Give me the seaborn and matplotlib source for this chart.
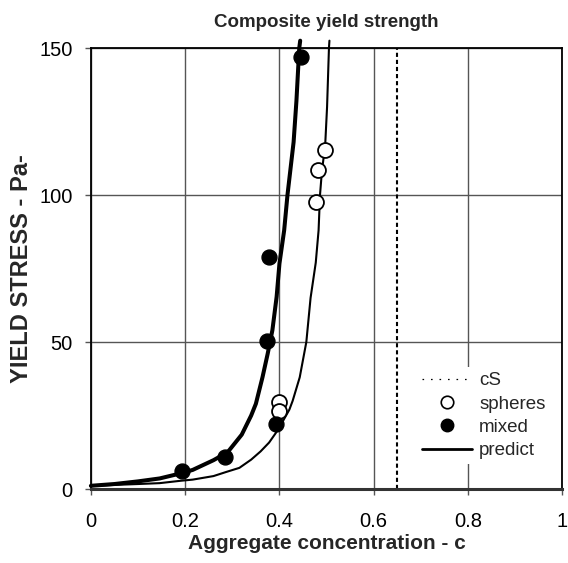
import matplotlib
matplotlib.use("Agg")
import matplotlib.pyplot as plt
import seaborn as sns
import pandas as pd
from matplotlib.lines import Line2D

# --- data ---
spheres_c = [0.398, 0.398, 0.478, 0.481, 0.4975]
spheres_y = [29.5, 26.6, 97.5, 108.5, 115.3]

mixed_c = [0.193, 0.285, 0.374, 0.392, 0.378, 0.446]
mixed_y = [6.0, 10.9, 50.5, 22.1, 79.0, 147.0]

pred_mixed_c = [0.0, 0.05, 0.10, 0.146, 0.19, 0.216, 0.26, 0.29, 0.32, 0.34, 0.35, 0.364,
                0.375, 0.385, 0.394, 0.40, 0.41, 0.417, 0.43, 0.436, 0.442, 0.444]
pred_mixed_y = [1.1, 1.7, 2.6, 3.6, 5.3, 6.5, 9.8, 12.5, 18.5, 25.0, 29.0, 38.0,
                46.0, 54.0, 65.4, 76.7, 88.0, 100.0, 118.0, 132.0, 150.0, 152.5]

pred_sph_c = [0.0, 0.05, 0.10, 0.146, 0.19, 0.216, 0.26, 0.287, 0.315, 0.34, 0.36, 0.378,
              0.392, 0.407, 0.421, 0.428, 0.443, 0.457, 0.466, 0.477, 0.483, 0.486, 0.49,
              0.497, 0.501, 0.505, 0.506]
pred_sph_y = [1.0, 1.4, 1.7, 2.0, 2.8, 3.2, 4.4, 5.8, 7.2, 10.0, 12.8, 15.8,
              19.0, 23.0, 27.0, 30.0, 38.0, 50.0, 65.0, 77.0, 88.0, 100.0, 108.0,
              117.0, 130.0, 150.0, 152.5]

cS = 0.65

x_ticks = [0, 0.2, 0.4, 0.6, 0.8, 1]
x_tick_labels = ["0", "0.2", "0.4", "0.6", "0.8", "1"]
y_ticks = [0, 50, 100, 150]

title = "Composite yield strength"
xlabel = "Aggregate concentration - c"
ylabel = "YIELD STRESS - Pa-"
legend_labels = ["cS", "spheres", "mixed", "predict"]

# --- style ---
sns.set_style("white")
plt.rcParams["font.family"] = ["Liberation Sans", "DejaVu Sans"]

fig = plt.figure(figsize=(5.68, 5.63), dpi=100)
ax = fig.add_axes([0.160, 0.1314, 0.830, 0.7833])

df_pm = pd.DataFrame({"c": pred_mixed_c, "y": pred_mixed_y})
df_ps = pd.DataFrame({"c": pred_sph_c, "y": pred_sph_y})
df_s = pd.DataFrame({"c": spheres_c, "y": spheres_y})
df_m = pd.DataFrame({"c": mixed_c, "y": mixed_y})

ax.axvline(cS, color="black", ls=(0, (2.0, 1.4)), lw=1.5, zorder=2)

sns.lineplot(data=df_pm, x="c", y="y", ax=ax, color="black", lw=2.9, sort=False,
             zorder=3, clip_on=False)
sns.lineplot(data=df_ps, x="c", y="y", ax=ax, color="black", lw=1.5, sort=False,
             zorder=3, clip_on=False)
sns.scatterplot(data=df_s, x="c", y="y", ax=ax, s=115, facecolor="white", edgecolor="black",
                linewidth=1.3, zorder=4)
sns.scatterplot(data=df_m, x="c", y="y", ax=ax, s=115, color="black", edgecolor="black",
                linewidth=1.0, zorder=4)

ax.set_xlim(0, 1)
ax.set_ylim(0, 150)
ax.set_xticks(x_ticks)
ax.set_xticklabels(x_tick_labels)
ax.set_yticks(y_ticks)
ax.grid(True, color="#555555", lw=1.0)
ax.set_axisbelow(True)
ax.tick_params(axis="both", direction="out", length=4.5, width=1, colors="#555555",
               labelcolor="black", labelsize=14.5, bottom=True, left=True)
ax.tick_params(axis="x", pad=12.0)
ax.tick_params(axis="y", pad=8.5)

for side in ["top", "right", "left"]:
    ax.spines[side].set_color("black")
    ax.spines[side].set_linewidth(1.3)
ax.spines["bottom"].set_color("#333333")
ax.spines["bottom"].set_linewidth(2.2)

ax.set_title(title, fontsize=13.5, fontweight="bold", pad=15)
ax.set_xlabel(xlabel, fontsize=15, fontweight="bold", labelpad=2)
ax.set_ylabel(ylabel, fontsize=17, fontweight="bold", labelpad=4.5)

handles = [
    Line2D([], [], color="black", ls=(0, (1.3, 5.5)), lw=0.9),
    Line2D([], [], marker="o", ls="none", markersize=9, markerfacecolor="white",
           markeredgecolor="black", markeredgewidth=1.2),
    Line2D([], [], marker="o", ls="none", markersize=9, markerfacecolor="black",
           markeredgecolor="black"),
    Line2D([], [], color="black", lw=2.0),
]
leg = ax.legend(handles, legend_labels, loc="lower left", bbox_to_anchor=(0.693, 0.057),
                fontsize=13.5, frameon=True, facecolor="white", edgecolor="none", framealpha=1,
                handlelength=2.67, handletextpad=0.37, labelspacing=0.33, borderpad=0.25,
                borderaxespad=0.0)
leg.set_zorder(5)

fig.savefig("out.png", dpi=100)
